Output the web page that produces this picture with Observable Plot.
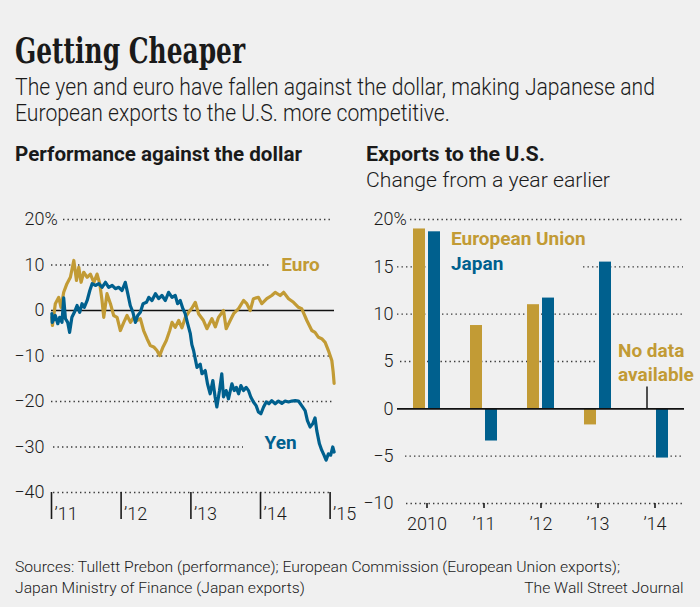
<!DOCTYPE html>
<html><head><meta charset="utf-8">
<script src="https://cdn.jsdelivr.net/npm/d3@7"></script>
<script src="https://cdn.jsdelivr.net/npm/@observablehq/plot@0.6"></script>
<style>
html,body{margin:0;padding:0;background:#f0f0f0;}
#page{position:relative;width:700px;height:607px;background:#f0f0f0;overflow:hidden;font-family:Roboto,sans-serif;color:#1a1a1a;}
.t{position:absolute;white-space:nowrap;line-height:1;transform-origin:0 0;}
</style></head><body><div id="page"></div>
<script>
// ---------- data ----------
const euroSeries = [["2011-01-03",-1.5],["2011-01-06",-3.3],["2011-01-21",1.5],["2011-02-08",2.9],["2011-02-20",0.7],["2011-03-06",4],["2011-03-23",5.9],["2011-04-10",7.3],["2011-04-28",11],["2011-05-12",6.6],["2011-05-24",9.5],["2011-06-05",6.2],["2011-06-19",8.4],["2011-07-07",7.3],["2011-07-24",8],["2011-08-11",6.2],["2011-08-28",8],["2011-09-11",5.9],["2011-09-23",2.2],["2011-10-02",-1.5],["2011-10-19",3.7],["2011-11-06",1.5],["2011-11-23",-1.1],["2011-12-11",-1.5],["2011-12-28",-4.4],["2012-01-15",-2.6],["2012-02-01",-1.1],["2012-02-19",-2.6],["2012-03-07",-1.5],["2012-03-24",-2.2],["2012-04-11",-1.8],["2012-04-28",-4.4],["2012-05-16",-6.2],["2012-06-02",-7.7],["2012-06-20",-8],["2012-07-07",-8.8],["2012-07-21",-9.9],["2012-08-08",-8],["2012-08-25",-6.6],["2012-09-12",-4.4],["2012-09-24",-2.6],["2012-10-11",-3.7],["2012-10-29",-2.2],["2012-11-15",-3.8],["2012-12-03",-1.5],["2012-12-20",-0.4],["2013-01-06",0.5],["2013-01-24",1.8],["2013-02-10",-0.7],["2013-03-08",-2.2],["2013-03-26",-4],["2013-04-21",-1.8],["2013-05-09",-3.6],["2013-05-26",-1.5],["2013-06-21",0],["2013-07-05",-4],["2013-07-26",-2.2],["2013-08-13",-0.7],["2013-09-08",0.4],["2013-10-04",2.2],["2013-10-21",1.5],["2013-11-08",0],["2013-11-25",2.6],["2013-12-21",2.9],["2014-01-08",1.5],["2014-02-03",2.6],["2014-03-01",3.3],["2014-03-19",4],["2014-04-14",3.3],["2014-05-02",4],["2014-05-28",2.6],["2014-06-23",1.8],["2014-07-19",0.7],["2014-08-05",0.4],["2014-09-01",-2.2],["2014-09-27",-4.4],["2014-10-14",-4.8],["2014-11-01",-5.9],["2014-11-18",-6.2],["2014-12-06",-7],["2014-12-23",-8.8],["2015-01-10",-11],["2015-01-17",-13.5],["2015-01-22",-16]];

const yenSeries = [["2011-01-03",-0.7],["2011-01-05",-2.6],["2011-01-21",-1.1],["2011-02-03",-2.9],["2011-02-13",-1.5],["2011-02-25",-2.6],["2011-03-06",2.8],["2011-03-15",-1.8],["2011-03-27",-2.6],["2011-04-06",-4.8],["2011-04-18",-1.5],["2011-05-01",-0.4],["2011-05-15",1.1],["2011-05-29",-0.4],["2011-06-10",1.5],["2011-06-22",0.7],["2011-07-07",2.2],["2011-07-21",4.4],["2011-08-02",5.9],["2011-08-19",5.5],["2011-09-06",5.9],["2011-09-23",5.1],["2011-10-11",6.2],["2011-10-28",5.1],["2011-11-15",5.5],["2011-12-02",4.8],["2011-12-19",5.1],["2012-01-06",4.4],["2012-01-23",6.2],["2012-02-05",3.7],["2012-02-18",1.1],["2012-03-03",-0.4],["2012-03-16",-2.6],["2012-03-28",-1.1],["2012-04-11",-0.4],["2012-04-25",1.5],["2012-05-13",1.8],["2012-05-25",2.9],["2012-06-11",2.2],["2012-06-29",3.7],["2012-07-16",2.6],["2012-08-02",3.3],["2012-08-20",2.2],["2012-09-06",4],["2012-09-24",2.9],["2012-10-11",3.3],["2012-10-23",1.5],["2012-11-06",2.2],["2012-11-20",0.4],["2012-12-02",-0.7],["2012-12-15",-2.9],["2012-12-29",-5.1],["2013-01-06",-7.5],["2013-01-15",-8.8],["2013-02-02",-12.5],["2013-02-19",-11.8],["2013-02-28",-13.9],["2013-03-17",-13.2],["2013-03-29",-16.1],["2013-04-12",-18.3],["2013-04-26",-15.4],["2013-05-08",-19],["2013-05-17",-21.2],["2013-05-31",-17.6],["2013-06-12",-13.9],["2013-06-21",-19],["2013-07-05",-17.6],["2013-07-17",-19.4],["2013-08-04",-16.1],["2013-08-16",-17.6],["2013-08-27",-16.9],["2013-09-08",-18.3],["2013-09-20",-16.5],["2013-10-04",-17.6],["2013-10-18",-16.9],["2013-10-30",-17.6],["2013-11-11",-19],["2013-11-25",-20.1],["2013-12-09",-20.9],["2013-12-21",-22.3],["2014-01-03",-22.7],["2014-01-17",-21.2],["2014-01-31",-20.1],["2014-02-14",-20.5],["2014-03-01",-19.8],["2014-03-19",-20.5],["2014-04-05",-19.9],["2014-04-23",-20.4],["2014-05-10",-19.9],["2014-05-28",-20.1],["2014-06-14",-19.9],["2014-07-02",-19.8],["2014-07-19",-19.9],["2014-08-05",-20.9],["2014-08-23",-22],["2014-09-04",-24.2],["2014-09-18",-25.6],["2014-10-02",-24.9],["2014-10-14",-23.6],["2014-10-23",-26.4],["2014-11-06",-29.3],["2014-11-18",-30.7],["2014-11-30",-31.8],["2014-12-11",-32.9],["2014-12-23",-31.5],["2015-01-04",-31.8],["2015-01-15",-30],["2015-01-22",-31.1]];

const exportYears = ["2010","2011","2012","2013","2014"];
const euExports = [19.0, 8.8, 11.0, -1.7, null];
const japanExports = [18.7, -3.4, 11.7, 15.5, -5.2];

const leftYTicks = [20,10,0,-10,-20,-30,-40];
const rightYTicks = [20,15,10,5,0,-5,-10];
const leftXTicks = ["2011-01-01","2012-01-01","2013-01-01","2014-01-01","2015-01-01"];
const leftXTickLabels = ["\u201911","\u201912","\u201913","\u201914","\u201915"];
const rightXTickLabels = ["2010","\u201911","\u201912","\u201913","\u201914"];

const lineLabels = [{text:"Euro", date:"2014-07-30", value:10, series:"euro"},{text:"Yen", date:"2014-04-16", value:-29, series:"yen"}];
const legendLabels = [{text:"European Union", year:"2010", value:18, series:"eu"},{text:"Japan", year:"2010", value:15.3, series:"jp"}];
const noDataNote = [{text:"No data\navailable", year:"2014", value:5.0, leaderTop:2.3}];

// ---------- styles ----------
const GOLD = "#c29b35", BLUE = "#00608e", INK = "#1a1a1a";
const grid = {stroke:"#3a3a3a", strokeWidth:1.4, strokeDasharray:"1.4,3.1"};
const fmtY = d => d === 20 ? "20" : d < 0 ? "\u2212" + Math.abs(d) : String(d);
const plotStyle = {background:"transparent", fontFamily:"Roboto, sans-serif", fontSize:"18px", fontWeight:300, color:INK, overflow:"visible"};

const page = document.getElementById("page");

function placeText(str, o) {
  const el = document.createElement("div");
  el.className = "t";
  el.style.fontFamily = o.family || "Roboto, sans-serif";
  el.style.fontSize = o.size + "px";
  el.style.fontWeight = o.weight || 400;
  if (o.stretch) el.style.fontStretch = o.stretch;
  el.style.color = o.color || INK;
  el.textContent = str;
  const probe = document.createElement("span");
  probe.style.cssText = "display:inline-block;width:0;height:0;vertical-align:baseline";
  el.appendChild(probe);
  page.appendChild(el);
  const r = el.getBoundingClientRect();
  const baseOff = probe.getBoundingClientRect().top - r.top;
  const natural = r.width;
  const s = o.scale != null ? o.scale : (o.width ? o.width / natural : 1);
  el.style.top = (o.baseline - baseOff) + "px";
  if (o.anchor === "end") { el.style.left = (o.x - natural) + "px"; el.style.transformOrigin = "100% 0"; }
  else el.style.left = o.x + "px";
  el.style.transform = `scaleX(${s})`;
  return s;
}

// ---------- header text ----------
placeText("Getting Cheaper", {x:15, baseline:63, size:35, weight:700, family:"'DejaVu Serif', serif", stretch:"condensed", width:230});
const sSub = placeText("The yen and euro have fallen against the dollar, making Japanese and", {x:15, baseline:94.5, size:23.5, weight:300, width:640});
placeText("European exports to the U.S. more competitive.", {x:15, baseline:120.5, size:23.5, weight:300, scale:sSub});
placeText("Performance against the dollar", {x:15, baseline:161, size:20, weight:700, width:287});
placeText("Exports to the U.S.", {x:366, baseline:161, size:20, weight:700, width:179});
placeText("Change from a year earlier", {x:366, baseline:187, size:20, weight:300, width:244});

// ---------- left chart ----------
const left = Plot.plot({
  width:345, height:330, marginLeft:51, marginRight:11, marginTop:19, marginBottom:38,
  style: plotStyle,
  x: {type:"utc", domain:[new Date("2011-01-01"), new Date("2015-01-24")]},
  y: {domain:[-40, 20]},
  marks: [
    Plot.ruleY([20], {...grid, insetLeft:12, insetRight:1}),
    Plot.ruleY([10], {...grid, insetRight:64}),
    Plot.ruleY([-10,-40], {...grid, insetLeft:2, insetRight:4}),
    Plot.ruleY([-20], {...grid, insetRight:1}),
    Plot.ruleY([-30], {...grid, insetLeft:2, insetRight:91}),
    Plot.axisY(leftYTicks, {tickSize:0, tickPadding:7, tickFormat:fmtY, label:null, fontSize:18}),
    Plot.text([20], {y:d=>d, text:()=>"%", frameAnchor:"left", textAnchor:"start", dx:-7, fontSize:18}),
    Plot.axisX(leftXTicks.map(d=>new Date(d)), {tickSize:27, fill:"none", stroke:INK, strokeWidth:1.6, label:null}),
    Plot.axisX(leftXTicks.map(d=>new Date(d)), {tickSize:27, stroke:"none", tickPadding:0, lineAnchor:"bottom", textAnchor:"start", dx:3, fontSize:18, label:null,
      tickFormat: d => leftXTickLabels[leftXTicks.indexOf(d.toISOString().slice(0,10))]}),
    Plot.ruleY([0], {stroke:"#111", strokeWidth:1.6}),
    Plot.line(euroSeries, {x:d=>new Date(d[0]), y:d=>d[1], stroke:GOLD, strokeWidth:3.2, strokeLinejoin:"round"}),
    Plot.line(yenSeries, {x:d=>new Date(d[0]), y:d=>d[1], stroke:BLUE, strokeWidth:3.2, strokeLinejoin:"round"}),
    Plot.text(lineLabels, {x:d=>new Date(d.date), y:"value", text:"text", fill:d=>d.series==="euro"?GOLD:BLUE, fontWeight:700, fontSize:19, lineAnchor:"middle"})
  ]
});

// ---------- right chart ----------
const euRows = exportYears.map((year,i)=>({year, value:euExports[i]})).filter(d=>d.value != null);
const jpRows = exportYears.map((year,i)=>({year, value:japanExports[i]})).filter(d=>d.value != null);

const right = Plot.plot({
  width:350, height:343, marginLeft:47, marginRight:16, marginTop:19, marginBottom:40,
  style: plotStyle,
  x: {type:"band", domain:exportYears, paddingInner:0.53, paddingOuter:0.265},
  y: {domain:[-10, 20]},
  marks: [
    Plot.ruleY([20], {...grid, insetLeft:13, insetRight:1}),
    Plot.ruleY([15], {...grid, insetRight:244}),
    Plot.ruleY([15], {...grid, insetLeft:186, insetRight:1}),
    Plot.ruleY([10], {...grid, insetRight:1}),
    Plot.ruleY([5], {...grid, insetLeft:3, insetRight:87}),
    Plot.ruleY([-5], {...grid, insetLeft:8, insetRight:1}),
    Plot.ruleY([-10], {...grid, insetLeft:9, insetRight:1}),
    Plot.axisY(rightYTicks, {tickSize:0, tickPadding:4, tickFormat:fmtY, label:null, fontSize:18}),
    Plot.text([20], {y:d=>d, text:()=>"%", frameAnchor:"left", textAnchor:"start", dx:-4, fontSize:18}),
    Plot.axisX({tickSize:5, tickPadding:9, stroke:INK, strokeWidth:1.6, label:null, fontSize:18,
      tickFormat: d => rightXTickLabels[exportYears.indexOf(d)]}),
    Plot.barY(euRows, {x:"year", y:"value", fill:GOLD, insetRight:15}),
    Plot.barY(jpRows, {x:"year", y:"value", fill:BLUE, insetLeft:15}),
    Plot.ruleY([0], {stroke:"#111", strokeWidth:1.6}),
    Plot.ruleX(noDataNote, {x:"year", y1:0, y2:"leaderTop", dx:-8, stroke:INK, strokeWidth:1.5}),
    Plot.text(noDataNote, {x:"year", y:"value", text:"text", fill:GOLD, fontWeight:700, fontSize:19, textAnchor:"start", dx:-37, lineHeight:1.23, lineAnchor:"middle"}),
    Plot.text(legendLabels, {x:"year", y:"value", text:"text", fill:d=>d.series==="eu"?GOLD:BLUE, fontWeight:700, fontSize:19, textAnchor:"start", dx:24, lineAnchor:"middle"})
  ]
});

function mount(svg, x, y) {
  const d = document.createElement("div");
  d.style.cssText = `position:absolute;left:${x}px;top:${y}px;`;
  d.appendChild(svg);
  page.appendChild(d);
}
mount(left, 0, 200);
mount(right, 350, 200);

// ---------- footer ----------
const sSrc = placeText("Sources: Tullett Prebon (performance); European Commission (European Union exports);", {x:15, baseline:572, size:15.5, weight:300, width:605});
placeText("Japan Ministry of Finance (Japan exports)", {x:15, baseline:592.5, size:15.5, weight:300, scale:sSrc});
placeText("The Wall Street Journal", {x:684, baseline:592.5, size:15.5, weight:300, scale:sSrc, anchor:"end"});
</script></body></html>
